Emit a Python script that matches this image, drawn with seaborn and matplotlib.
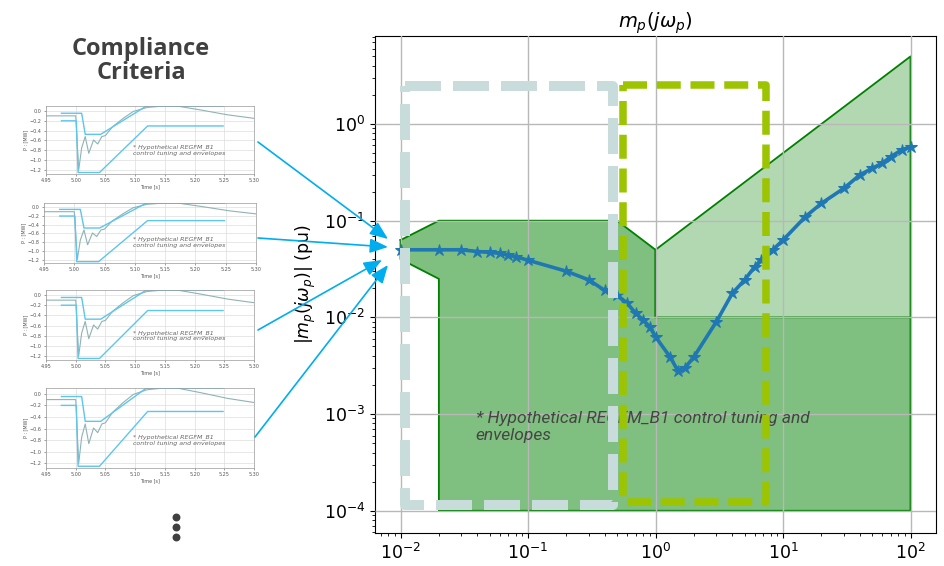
import matplotlib
matplotlib.use("Agg")
import matplotlib.pyplot as plt
import seaborn as sns
import pandas as pd

# frequency response of the plant
freq = [0.01, 0.02, 0.03, 0.04, 0.05, 0.06, 0.07, 0.08, 0.1, 0.2, 0.3, 0.4, 0.5,
        0.6, 0.7, 0.8, 0.9, 1.0, 1.3, 1.5, 1.7, 2.0, 3.0, 4.0, 5.0, 6.0, 6.7, 8.3,
        10, 15, 20, 30, 40, 50, 60, 70, 85, 100]
mag = [0.05, 0.05, 0.05, 0.048, 0.047, 0.046, 0.044, 0.0425, 0.039, 0.03, 0.0244,
       0.019, 0.017, 0.014, 0.011, 0.0094, 0.008, 0.0063, 0.0039, 0.0028, 0.003,
       0.0039, 0.009, 0.0177, 0.0244, 0.0334, 0.039, 0.0498, 0.063, 0.11, 0.151,
       0.216, 0.297, 0.348, 0.392, 0.459, 0.538, 0.58]

# compliance regions
dark_x = [0.01, 0.02, 0.5, 1, 1, 100, 100, 0.02, 0.02, 0.01]
dark_y = [0.063, 0.1, 0.1, 0.05, 0.01, 0.01, 1e-4, 1e-4, 0.025, 0.04]
light_x = [1, 1, 100, 100]
light_y = [0.01, 0.05, 5, 0.01]

# highlighted frequency bands (dashed boxes)
grey_box_x = [0.0108, 0.464, 0.464, 0.0108, 0.0108]
grey_box_y = [2.5, 2.5, 1.15e-4, 1.15e-4, 2.5]
lime_box_x = [0.552, 7.4, 7.4, 0.552, 0.552]
lime_box_y = [2.55, 2.55, 1.23e-4, 1.23e-4, 2.55]

# time-domain thumbnails
t_upper = [4.976, 5.010, 5.016, 5.042, 5.119, 5.248]
p_upper = [-0.047, -0.047, -0.475, -0.475, 0.10, 0.10]
t_lower = [4.976, 5.001, 5.004, 5.040, 5.121, 5.248]
p_lower = [-0.2, -0.2, -1.25, -1.25, -0.305, -0.305]
t_resp = [4.95, 5.000, 5.005, 5.010, 5.016, 5.022, 5.030, 5.037, 5.044, 5.050,
          5.062, 5.080, 5.097, 5.120, 5.148, 5.170, 5.210, 5.256, 5.300]
p_resp = [-0.1, -0.1, -1.2, -0.75, -0.52, -0.86, -0.59, -0.67, -0.52, -0.5,
          -0.32, -0.15, -0.01, 0.07, 0.1, 0.1, 0.02, -0.08, -0.15]
thumb_xticks = [4.95, 5.00, 5.05, 5.10, 5.15, 5.20, 5.25, 5.30]
thumb_yticks = [-1.2, -1.0, -0.8, -0.6, -0.4, -0.2, 0.0]

W, H = 944, 566


def px_rect(l, t, r, b):
    return [l / W, 1 - b / H, (r - l) / W, (b - t) / H]


fig = plt.figure(figsize=(W / 100, H / 100), dpi=100)

# ---- main chart ----
ax = fig.add_axes(px_rect(375, 36, 936, 533))
ax.set_xscale("log")
ax.set_yscale("log")
ax.fill(dark_x, dark_y, facecolor="green", alpha=0.5, zorder=1)
ax.fill(light_x, light_y, facecolor="green", alpha=0.3, zorder=1)
ax.plot(dark_x + dark_x[:1], dark_y + dark_y[:1], color="green", lw=1.3, zorder=2)
ax.plot(light_x, light_y, color="green", lw=1.3, zorder=2)

ax.text(0.039, 1.08e-3, "* Hypothetical REGFM_B1 control tuning and\nenvelopes",
        fontsize=12.5, style="italic", color="#454545",
        family="Roboto", ha="left", va="top", zorder=3)

sns.lineplot(x=freq, y=mag, ax=ax, estimator=None, sort=False, color="#1f77b4",
             lw=2.6, marker="*", markersize=9, markeredgecolor="#1f77b4", zorder=4)

ax.plot(grey_box_x, grey_box_y, color="#c9dcdc", lw=7.2, dashes=(3.6, 1.2), zorder=5)
ax.plot(lime_box_x, lime_box_y, color="#9cc400", lw=5.4, dashes=(3.2, 1.3), zorder=6)

ax.set_xlim(10 ** -2.2, 10 ** 2.2)
ax.set_ylim(10 ** -4.23, 10 ** 0.91)
ax.grid(True, which="major", color="#b8b8b8", lw=1.0, zorder=2.5)
ax.set_axisbelow(False)
ax.tick_params(labelsize=12.5)
ax.set_title(r"$m_p(j\omega_p)$", fontsize=14)
ax.set_ylabel(r"$|m_p(j\omega_p)|$ (pu)", fontsize=12.5)

# ---- left column: time-domain compliance thumbnails ----
fig.text(141 / W, 1 - 61 / H, "Compliance\nCriteria", ha="center", va="center",
         fontsize=17, fontweight="bold", color="#404040", family="Open Sans",
         linespacing=1.0)

thumb_boxes = [(46, 106, 254, 174), (44, 203, 256, 263),
               (46, 290, 254, 360), (46, 388, 254, 468)]
for box in thumb_boxes:
    tax = fig.add_axes(px_rect(*box))
    sns.lineplot(x=t_resp, y=p_resp, ax=tax, estimator=None, sort=False,
                 color="#8fb3b3", lw=0.8)
    sns.lineplot(x=t_upper, y=p_upper, ax=tax, estimator=None, sort=False,
                 color="#5cc6ee", lw=1.0)
    sns.lineplot(x=t_lower, y=p_lower, ax=tax, estimator=None, sort=False,
                 color="#5cc6ee", lw=1.0)
    tax.set_xlim(4.95, 5.30)
    tax.set_ylim(-1.28, 0.1)
    tax.set_xticks(thumb_xticks)
    tax.set_xticklabels([f"{v:.2f}" for v in thumb_xticks])
    tax.set_yticks(thumb_yticks)
    tax.set_yticklabels([f"{v:.1f}".replace("-", "\u2212") for v in thumb_yticks])
    tax.tick_params(labelsize=3.5, length=1.5, width=0.4, pad=1.5, colors="#555555")
    tax.grid(True, color="#dddddd", lw=0.5)
    for s in tax.spines.values():
        s.set_color("#999999")
        s.set_linewidth(0.5)
    tax.set_xlabel("Time [s]", fontsize=3.5, labelpad=1, color="#555555")
    tax.set_ylabel("P : [MW]", fontsize=3.5, labelpad=1, color="#555555")
    tax.text(5.097, -0.8, "* Hypothetical REGFM_B1\ncontrol tuning and envelopes",
             fontsize=4.5, style="italic", color="#666666", va="center")

# ---- overlay: arrows and ellipsis ----
arrow_starts = [(258, 142), (258, 238), (258, 330), (255, 437)]
arrow_tips = [(388, 239), (388, 247), (382, 260), (388, 265)]
dots_x = [176, 176, 176]
dots_y = [517, 527, 537]

ov = fig.add_axes([0, 0, 1, 1], zorder=10)
ov.set_xlim(0, W)
ov.set_ylim(H, 0)
ov.axis("off")
ov.patch.set_alpha(0)
for s, e in zip(arrow_starts, arrow_tips):
    ov.annotate("", xy=e, xytext=s,
                arrowprops=dict(arrowstyle="-|>,head_length=0.5,head_width=0.2",
                                color="#00aeef", lw=1.2, mutation_scale=22,
                                shrinkA=0, shrinkB=0))
ov.scatter(dots_x, dots_y, s=22, color="#404040")

fig.savefig("out.png", dpi=100)
